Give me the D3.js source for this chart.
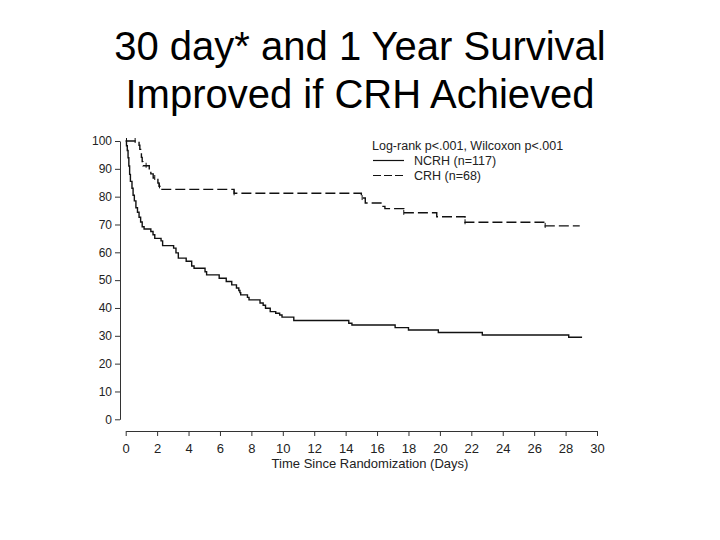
<!DOCTYPE html>
<html>
<head>
<meta charset="utf-8">
<script src="https://cdn.jsdelivr.net/npm/d3@7"></script>
<style>
	body { margin: 0; background: #fff; }
	svg { display: block; }
	text { font-family: "Liberation Sans", Arial, sans-serif; }
</style>
</head>
<body>
<div id="viz"></div>
<script>
// chart values
var titleLines = ["30 day* and 1 Year Survival", "Improved if CRH Achieved"];
var xTicks = [0, 2, 4, 6, 8, 10, 12, 14, 16, 18, 20, 22, 24, 26, 28, 30];
var yTicks = [0, 10, 20, 30, 40, 50, 60, 70, 80, 90, 100];
var xLabel = "Time Since Randomization (Days)";
var legendHeader = "Log-rank p<.001, Wilcoxon p<.001";
var seriesNames = ["NCRH (n=117)", "CRH (n=68)"];

// NCRH - solid line (Kaplan-Meier steps)
var ncrhTime = [0, 0.05, 0.1, 0.15, 0.2, 0.25, 0.3, 0.4, 0.47, 0.55, 0.65, 0.75, 0.85, 0.95, 1.05, 1.17,
	1.6, 1.74, 1.85, 2.25, 2.35, 3.05, 3.2, 3.35, 3.85, 4.2, 4.35, 5.05, 5.15, 5.95, 6.4, 6.75, 7.05,
	7.2, 7.27, 7.32, 7.75, 7.85, 8.55, 8.75, 8.9, 9.2, 9.55, 9.8, 9.95, 10.7, 14.2, 14.4, 17.15, 18.0,
	19.9, 22.7, 28.2, 29.05];
var ncrhSurv = [100, 98.3, 96.6, 94, 91, 88, 85.5, 83, 80.5, 78.5, 76, 74.4, 72.6, 70.9, 69.2, 68.4,
	67.5, 66.3, 65, 64.1, 62.4, 61.5, 59.8, 57.9, 56.8, 55.1, 54.3, 53.0, 51.9, 50.7, 49.5, 48.3, 47.2,
	46.3, 45.5, 44.7, 43.8, 42.9, 41.8, 41.0, 39.9, 38.7, 38.1, 37.5, 36.7, 35.5, 34.5, 33.9, 32.95, 32.1,
	31.2, 30.3, 29.5, 29.5];

// CRH - dashed line
var crhTime = [0, 0.85, 0.9, 0.95, 1.0, 1.05, 1.1, 1.5, 1.6, 1.75, 2.05, 2.12, 2.2, 6.9, 15.0, 15.25,
	16.3, 16.5, 17.7, 19.8, 21.6, 26.7, 28.9];
var crhSurv = [100, 98.5, 97.0, 95.6, 94.1, 92.6, 91.1, 89.6, 88.2, 86.7, 84.9, 83.7, 82.6, 81.2, 79.5, 77.7,
	76.5, 75.7, 74.2, 72.8, 70.8, 69.5, 69.5];
// censor marks on CRH
var crhCensor = [0.05, 0.6, 1.3, 1.85, 2.15, 6.9, 15.05, 17.7, 21.6, 26.7];

var width = 720, height = 540;

var svg = d3.select("#viz")
	.append("svg")
	.attr("width", width)
	.attr("height", height);

// title
svg.selectAll("text.title")
	.data(titleLines)
	.enter()
	.append("text")
	.attr("class", "title")
	.attr("x", 360)
	.attr("y", function(d, i){ return 60 + i * 48; })
	.attr("text-anchor", "middle")
	.style("font-size", "40px")
	.style("fill", "#000")
	.text(function(d){ return d; });

var x = d3.scaleLinear().domain([0, 30]).range([125.7, 597]);
var y = d3.scaleLinear().domain([0, 100]).range([419.3, 141]);

// axes
var yAxis = svg.append("g")
	.attr("transform", "translate(120,0)")
	.call(d3.axisLeft(y).tickValues(yTicks).tickSize(5).tickSizeOuter(0).tickPadding(3));

var xAxis = svg.append("g")
	.attr("transform", "translate(0,431)")
	.call(d3.axisBottom(x).tickValues(xTicks).tickSize(5).tickSizeOuter(0).tickPadding(8));

[yAxis, xAxis].forEach(function(g){
	g.select(".domain").attr("stroke", "#333");
	g.selectAll(".tick line").attr("stroke", "#333");
	g.selectAll(".tick text")
		.attr("fill", "#222")
		.style("font-family", "'Liberation Sans', Arial, sans-serif");
});
yAxis.selectAll(".tick text").style("font-size", "12px");
xAxis.selectAll(".tick text").style("font-size", "13px");

svg.append("text")
	.attr("x", 370)
	.attr("y", 468)
	.attr("text-anchor", "middle")
	.style("font-size", "13px")
	.style("fill", "#222")
	.text(xLabel);

// survival curves
var line = d3.line()
	.curve(d3.curveStepAfter)
	.x(function(d){ return x(d[0]); })
	.y(function(d){ return y(d[1]); });

var ncrh = d3.zip(ncrhTime, ncrhSurv);
var crh = d3.zip(crhTime, crhSurv);

svg.append("path")
	.datum(ncrh)
	.attr("d", line)
	.attr("fill", "none")
	.attr("stroke", "#111")
	.attr("stroke-width", 1.4);

svg.append("path")
	.datum(crh)
	.attr("d", line)
	.attr("fill", "none")
	.attr("stroke", "#111")
	.attr("stroke-width", 1.4)
	.attr("stroke-dasharray", "10,4");

// censor ticks
function crhAt(t){
	var i = d3.bisectRight(crhTime, t) - 1;
	return crhSurv[Math.max(0, i)];
}
svg.selectAll("line.censor")
	.data(crhCensor)
	.enter()
	.append("line")
	.attr("class", "censor")
	.attr("x1", function(d){ return x(d); })
	.attr("x2", function(d){ return x(d); })
	.attr("y1", function(d){ return y(crhAt(d)) - 3; })
	.attr("y2", function(d){ return y(crhAt(d)) + 2; })
	.attr("stroke", "#111")
	.attr("stroke-width", 1);

// legend
svg.append("text")
	.attr("x", 372)
	.attr("y", 150)
	.style("font-size", "12.5px")
	.style("fill", "#222")
	.text(legendHeader);

var legend = svg.selectAll("g.legend")
	.data(seriesNames)
	.enter()
	.append("g")
	.attr("class", "legend")
	.attr("transform", function(d, i){ return "translate(0," + (165 + i * 15) + ")"; });

legend.append("line")
	.attr("x1", 373)
	.attr("x2", 404)
	.attr("y1", -4.5)
	.attr("y2", -4.5)
	.attr("stroke", "#111")
	.attr("stroke-width", 1.2)
	.attr("stroke-dasharray", function(d, i){ return i == 1 ? "8,3" : null; });

legend.append("text")
	.attr("x", 414)
	.attr("y", 0)
	.style("font-size", "12.5px")
	.style("fill", "#222")
	.text(function(d){ return d; });
</script>
</body>
</html>
